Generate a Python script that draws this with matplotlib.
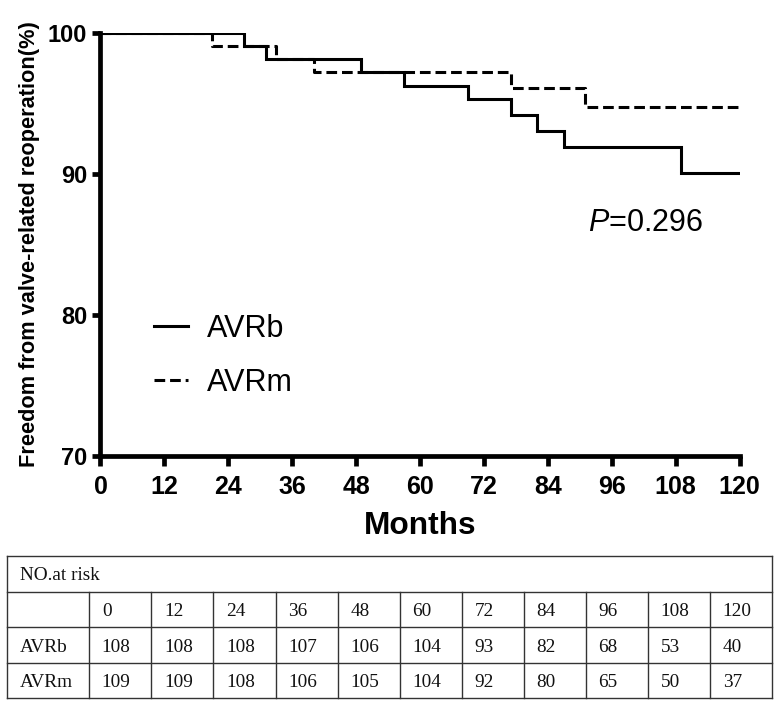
import matplotlib
matplotlib.use("Agg")
import matplotlib.pyplot as plt

# ---------------- data ----------------
avrb_t = [0, 27, 31, 49, 57, 69, 77, 82, 87, 109, 120]
avrb_s = [100, 99.07, 98.15, 97.22, 96.28, 95.31, 94.19, 93.08, 91.90, 90.09, 90.09]
avrm_t = [0, 21, 33, 40, 77, 91, 120]
avrm_s = [100, 99.10, 98.17, 97.23, 96.09, 94.74, 94.74]

series_names = ["AVRb", "AVRm"]
x_ticks = [0, 12, 24, 36, 48, 60, 72, 84, 96, 108, 120]
y_ticks = [70, 80, 90, 100]
p_text = "$\\mathit{P}$=0.296"

risk_title = "NO.at risk"
risk_times = ["0", "12", "24", "36", "48", "60", "72", "84", "96", "108", "120"]
risk_avrb = [108, 108, 108, 107, 106, 104, 93, 82, 68, 53, 40]
risk_avrm = [109, 109, 108, 106, 105, 104, 92, 80, 65, 50, 37]

plt.rcParams["mathtext.fontset"] = "custom"
plt.rcParams["mathtext.rm"] = "Liberation Sans"
plt.rcParams["mathtext.it"] = "Liberation Sans:italic"

# ---------------- figure ----------------
W, H = 780, 706
fig = plt.figure(figsize=(W / 100, H / 100), dpi=100)
sans = ["Liberation Sans", "Arial", "DejaVu Sans"]
serif = ["Liberation Serif", "Times New Roman", "DejaVu Serif"]

ax_l, ax_r, ax_t, ax_b = 100.5, 739.5, 33.3, 455.5
ax = fig.add_axes([ax_l / W, 1 - ax_b / H, (ax_r - ax_l) / W, (ax_b - ax_t) / H])

ax.step(avrb_t, avrb_s, where="post", color="black", lw=2.2, label=series_names[0],
        solid_joinstyle="miter")
ax.step(avrm_t, avrm_s, where="post", color="black", lw=2.2, label=series_names[1],
        linestyle=(0, (3.5, 1.6)))

ax.set_xlim(0, 120)
ax.set_ylim(70, 100)
for s in ["top", "right"]:
    ax.spines[s].set_visible(False)
for s in ["left", "bottom"]:
    ax.spines[s].set_linewidth(3.4)
    ax.spines[s].set_capstyle("projecting")

ax.set_xticks(x_ticks)
ax.set_yticks(y_ticks)
ax.tick_params(axis="x", length=7, width=3.4, pad=7, labelsize=18)
ax.tick_params(axis="y", length=5.5, width=3.4, pad=4, labelsize=17)
for lab in ax.get_xticklabels() + ax.get_yticklabels():
    lab.set_fontfamily(sans)
    lab.set_fontweight("bold")

ax.set_xlabel("Months", fontsize=22.8, fontweight="bold", family=sans, labelpad=9)
ax.set_ylabel("Freedom from valve-related reoperation(%)", fontsize=15.7,
              fontweight="bold", family=sans, labelpad=6)

leg = ax.legend(loc="upper left", bbox_to_anchor=(53.5 / (ax_r - ax_l), 1 - (314 - ax_t) / (ax_b - ax_t)),
                frameon=False, prop={"family": sans, "size": 22}, handlelength=1.1,
                handletextpad=0.62, labelspacing=0.78, borderpad=0, borderaxespad=0)

fig.text(588 / W, 1 - 231 / H, p_text, fontsize=22, family=sans, va="baseline")

# ---------------- table ----------------
tab = fig.add_axes([0, 0, 1, 1])
tab.set_xlim(0, W)
tab.set_ylim(H, 0)
tab.axis("off")

left, first_col, right = 7.3, 89.3, 772.3
rows = [555.7, 591.7, 627.3, 662.7, 698.0]
ncol = len(risk_times)
cw = (right - first_col) / ncol
col_x = [first_col + i * cw for i in range(ncol + 1)]
lc = "#333333"
lw = 1.0
for y in rows:
    tab.plot([left, right], [y, y], color=lc, lw=lw, solid_capstyle="projecting")
tab.plot([left, left], [rows[0], rows[-1]], color=lc, lw=lw)
tab.plot([right, right], [rows[0], rows[-1]], color=lc, lw=lw)
for x in col_x[:-1]:
    tab.plot([x, x], [rows[1], rows[-1]], color=lc, lw=lw)

fs = 13.9
pad = 12.5
def cell_text(x, r, s):
    yc = (rows[r] + rows[r + 1]) / 2 + 6.6
    tab.text(x + pad, yc, s, fontsize=fs, family=serif, va="baseline", ha="left", color="#111111")

cell_text(left, 0, risk_title)
for i, t in enumerate(risk_times):
    cell_text(col_x[i], 1, t)
cell_text(left, 2, series_names[0])
cell_text(left, 3, series_names[1])
for i, v in enumerate(risk_avrb):
    cell_text(col_x[i], 2, str(v))
for i, v in enumerate(risk_avrm):
    cell_text(col_x[i], 3, str(v))

fig.savefig("out.png", dpi=100)
